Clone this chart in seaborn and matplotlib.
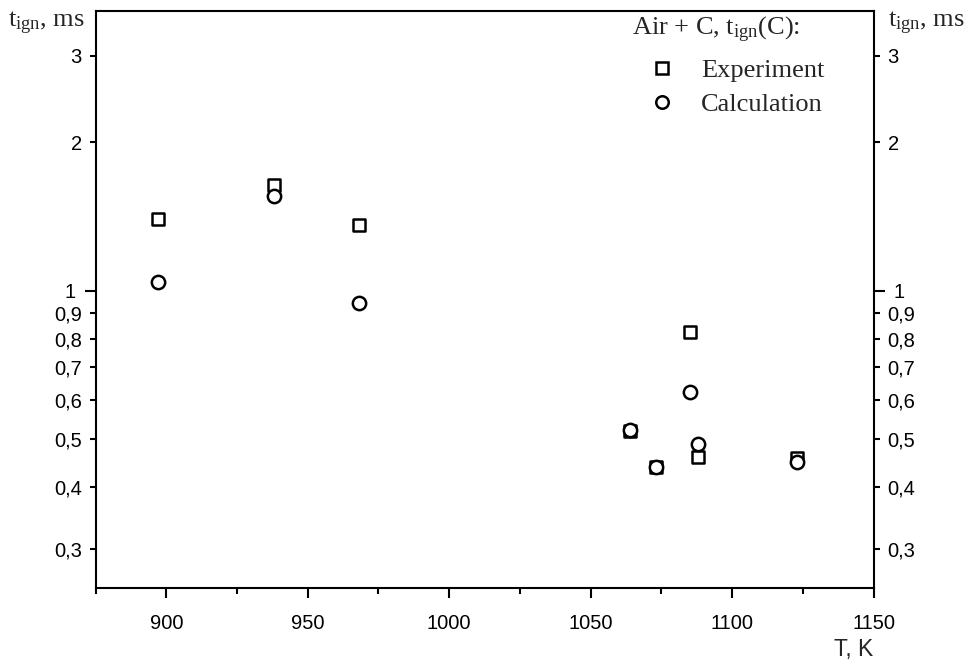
import matplotlib
matplotlib.use('Agg')
import matplotlib.pyplot as plt
from matplotlib.ticker import FixedLocator, FixedFormatter, MultipleLocator
from matplotlib.lines import Line2D
import seaborn as sns
import pandas as pd

# values
exp_T = [897, 938, 968, 1064, 1073, 1085, 1088, 1123]
exp_t = [1.40, 1.64, 1.36, 0.52, 0.44, 0.826, 0.461, 0.458]
calc_T = [897, 938, 968, 1064, 1073, 1085, 1088, 1123]
calc_t = [1.043, 1.557, 0.943, 0.521, 0.44, 0.624, 0.489, 0.449]
y_ticks = [0.3, 0.4, 0.5, 0.6, 0.7, 0.8, 0.9, 1, 2, 3]
x_ticks = [900, 950, 1000, 1050, 1100, 1150]

sns.set_style('ticks')
plt.rcParams['font.family'] = ['Liberation Sans', 'DejaVu Sans']
plt.rcParams['mathtext.fontset'] = 'custom'
plt.rcParams['mathtext.rm'] = 'Liberation Serif'
plt.rcParams['mathtext.it'] = 'Liberation Serif'

exp_df = pd.DataFrame({'T': exp_T, 't': exp_t})
calc_df = pd.DataFrame({'T': calc_T, 't': calc_t})

fig = plt.figure(figsize=(9.69, 6.63), dpi=100)
ax = fig.add_axes([0.0986, 0.1136, 0.9016 - 0.0986, 0.9839 - 0.1136])

sns.scatterplot(data=exp_df, x='T', y='t', ax=ax, marker='s', s=78,
                facecolor='white', edgecolor='black', linewidth=1.8, zorder=3)
sns.scatterplot(data=calc_df, x='T', y='t', ax=ax, marker='o', s=92,
                facecolor='white', edgecolor='black', linewidth=1.8, zorder=4)

ax.set_yscale('log')
ax.set_xlim(875, 1150)
ax.set_ylim(0.25, 3.7)

ax.yaxis.set_major_locator(FixedLocator([1]))
ax.yaxis.set_major_formatter(FixedFormatter(['1']))
ax.yaxis.set_minor_locator(FixedLocator([v for v in y_ticks if v != 1]))
ax.yaxis.set_minor_formatter(FixedFormatter([f'{v:g}'.replace('.', ',') for v in y_ticks if v != 1]))
ax.xaxis.set_major_locator(FixedLocator(x_ticks))
ax.xaxis.set_minor_locator(MultipleLocator(25))

ax.tick_params(axis='both', which='both', direction='out', colors='black',
               labelsize=14.5, width=1.5, pad=6)
ax.tick_params(axis='y', which='both', left=True, right=True, labelleft=True, labelright=True)
ax.tick_params(axis='y', which='major', length=8)
ax.tick_params(axis='y', which='minor', length=4)
ax.tick_params(axis='x', which='major', length=7, pad=12)
ax.tick_params(axis='x', which='minor', length=4)

for sp in ax.spines.values():
    sp.set_visible(True)
    sp.set_linewidth(1.5)
    sp.set_color('black')

ax.set_xlabel('')
ax.set_ylabel('')
fig.text(0.901, 0.010, 'T, K', ha='right', va='baseline', fontsize=16.5)

serif = 'Liberation Serif'
ylab = r'$\mathregular{t_{ign}}$, ms'
fig.text(0.008, 0.959, ylab, ha='left', va='baseline', fontsize=19, family=serif)
fig.text(0.9164, 0.959, ylab, ha='left', va='baseline', fontsize=19, family=serif)

# legend title as its own text, entries below it
fig.text(0.652, 0.9472, r'Air + C, $\mathregular{t_{ign}}$(C):', ha='left', va='baseline',
         fontsize=19, family=serif)
handles = [
    Line2D([], [], linestyle='none', marker='s', markersize=8.5, markerfacecolor='white',
           markeredgecolor='black', markeredgewidth=1.8, label='Experiment'),
    Line2D([], [], linestyle='none', marker='o', markersize=9, markerfacecolor='white',
           markeredgecolor='black', markeredgewidth=1.8, label='Calculation'),
]
leg = ax.legend(handles=handles, loc='upper left', bbox_to_anchor=(0.6692, 0.911),
                bbox_transform=fig.transFigure, frameon=False,
                prop={'family': serif, 'size': 19}, borderpad=0, borderaxespad=0,
                handlelength=1.0, handletextpad=1.0, labelspacing=0.39)

fig.savefig('out.png', dpi=100)
